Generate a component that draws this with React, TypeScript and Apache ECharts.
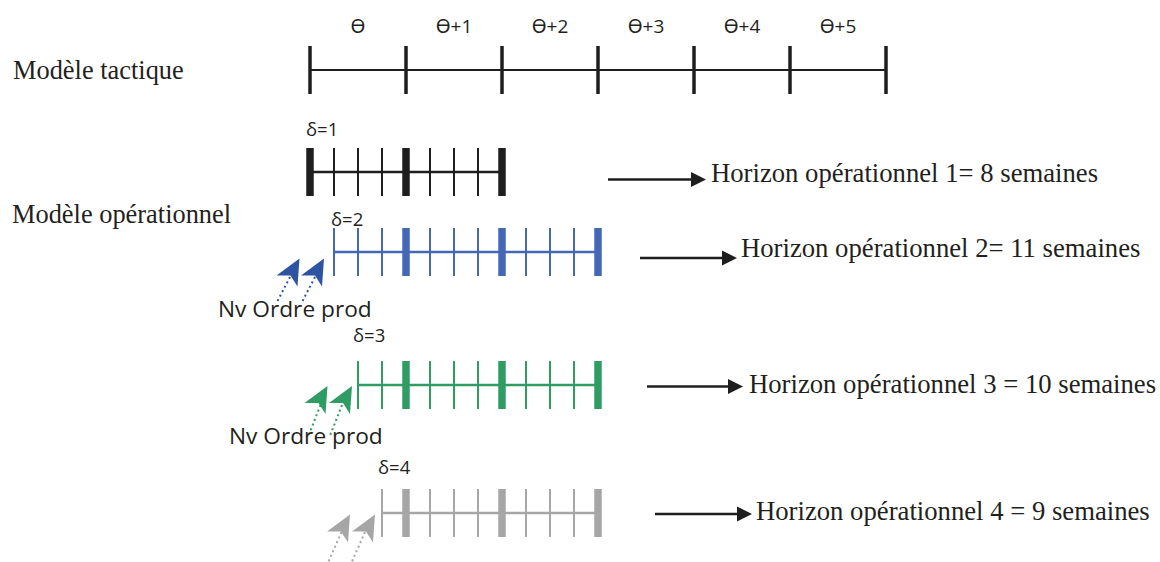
import React, { useEffect, useRef } from "react";
import * as echarts from "echarts";

// ---------- data ----------
const periodLabels = ["ϴ", "ϴ+1", "ϴ+2", "ϴ+3", "ϴ+4", "ϴ+5"];
const weeksPerPeriod = 4;
const deltas = [1, 2, 3, 4];
const horizonWeeks = [8, 11, 10, 9];
const deltaLabels = ["δ=1", "δ=2", "δ=3", "δ=4"];
const horizonLabels = [
  "Horizon opérationnel 1= 8 semaines",
  "Horizon opérationnel 2= 11 semaines",
  "Horizon opérationnel 3 = 10 semaines",
  "Horizon opérationnel 4 = 9 semaines",
];
const modelLabels = ["Modèle tactique", "Modèle opérationnel"];
const orderLabel = "Nv Ordre prod";

// ---------- styling / layout ----------
const rowColors = ["#1e1e1e", "#1e1e1e", "#4468b4", "#2f9d63", "#a6a6a6"];
const arrowColors = ["#1e1e1e", "#1e1e1e", "#2d54a3", "#2f9d63", "#a6a6a6"];
const rowCenters = [70, 172, 252, 385, 513];
const tickHalf = 24;
const gridLeft = 310;
const weekPx = 24;
const SERIF = "'Liberation Serif', 'Times New Roman', serif";
const SANS = "'Open Sans', 'Noto Sans', sans-serif";

const totalWeeks = periodLabels.length * weeksPerPeriod;

function arrowHead(tx: number, ty: number, fill: string) {
  return {
    type: "polygon",
    shape: {
      points: [
        [tx, ty],
        [tx - 23, ty + 17],
        [tx - 9, ty + 17],
        [tx - 2, ty + 28],
      ],
    },
    style: { fill },
  };
}
function dotted(x1: number, y1: number, x2: number, y2: number, stroke: string) {
  return {
    type: "line",
    shape: { x1, y1, x2, y2 },
    style: { stroke, lineWidth: 2, lineDash: [2, 3] },
  };
}
function txt(x: number, y: number, text: string, fontSize: number, fontFamily: string, fill = "#231f20") {
  return {
    type: "text",
    x,
    y,
    style: {
      text,
      fontSize,
      fontFamily,
      fill,
      align: "left",
      verticalAlign: "middle",
      textAlign: "left",
      textVerticalAlign: "middle",
    },
  };
}
function blackArrow(x1: number, x2: number, y: number) {
  return [
    { type: "line", shape: { x1, y1: y, x2: x2 - 14, y2: y }, style: { stroke: "#1e1e1e", lineWidth: 2.5 } },
    {
      type: "polygon",
      shape: { points: [[x2 - 15, y - 7.5], [x2, y], [x2 - 15, y + 7.5]] },
      style: { fill: "#1e1e1e" },
    },
  ];
}

export default function App() {
  const ref = useRef<HTMLDivElement>(null);
  useEffect(() => {
    if (!ref.current) return;
    const chart = echarts.init(ref.current, undefined, { renderer: "svg" });

    const grids: any[] = [];
    const xAxes: any[] = [];
    const yAxes: any[] = [];
    const series: any[] = [];

    // rows: 0 tactical, 1..4 operational
    const rows = [
      { start: 0, end: totalWeeks, step: weeksPerPeriod },
      ...deltas.map((d, i) => ({ start: d - 1, end: d - 1 + horizonWeeks[i], step: 1 })),
    ];

    rows.forEach((r, i) => {
      grids.push({
        left: gridLeft,
        width: totalWeeks * weekPx,
        top: rowCenters[i] - tickHalf,
        height: tickHalf * 2,
      });
      xAxes.push({ type: "value", gridIndex: i, min: 0, max: totalWeeks, show: false });
      yAxes.push({ type: "value", gridIndex: i, min: -1, max: 1, show: false });
      const ticks: number[][] = [];
      for (let w = r.start; w <= r.end; w += r.step) ticks.push([w, w % weeksPerPeriod === 0 ? 1 : 0]);
      const color = rowColors[i];
      series.push({
        type: "line",
        xAxisIndex: i,
        yAxisIndex: i,
        data: [
          [r.start, 0],
          [r.end, 0],
        ],
        showSymbol: false,
        symbol: "none",
        lineStyle: { color, width: i === 0 ? 2 : 2.5 },
        silent: true,
      });
      series.push({
        type: "custom",
        xAxisIndex: i,
        yAxisIndex: i,
        clip: false,
        data: ticks,
        renderItem: (_p: any, api: any) => {
          const w = api.value(0);
          const thick = api.value(1);
          const top = api.coord([w, 1]);
          const bot = api.coord([w, -1]);
          const bw = i === 0 ? 3.5 : thick ? 7.5 : 2;
          return {
            type: "rect",
            shape: { x: top[0] - bw / 2, y: top[1], width: bw, height: bot[1] - top[1] },
            style: { fill: color },
          };
        },
      });
    });

    // period labels on top of tactical row
    xAxes.push({
      type: "category",
      gridIndex: 0,
      position: "top",
      data: periodLabels,
      axisLine: { show: false },
      axisTick: { show: false },
      axisLabel: { fontSize: 19, fontFamily: SANS, color: "#231f20", margin: 11, lineHeight: 19 },
    });

    const graphic: any[] = [
      txt(13, 70, modelLabels[0], 26.4, SERIF),
      txt(12, 214, modelLabels[1], 26.4, SERIF),
      // delta labels
      txt(306, 128, deltaLabels[0], 18.5, SANS),
      txt(331, 218, deltaLabels[1], 18.5, SANS),
      txt(353, 334, deltaLabels[2], 18.5, SANS),
      txt(378, 466, deltaLabels[3], 18.5, SANS),
      // horizon arrows + texts
      ...blackArrow(608, 706, 179.5),
      txt(711, 173, horizonLabels[0], 26.7, SERIF),
      ...blackArrow(640, 737, 258),
      txt(741, 248, horizonLabels[1], 26.7, SERIF),
      ...blackArrow(647, 743, 386.5),
      txt(749, 384, horizonLabels[2], 26.7, SERIF),
      ...blackArrow(655, 752, 514),
      txt(756, 511, horizonLabels[3], 26.7, SERIF),
      // new production order arrows (blue)
      dotted(290, 277, 277, 302, arrowColors[2]),
      dotted(315, 277, 302, 302, arrowColors[2]),
      arrowHead(299.5, 258.5, arrowColors[2]),
      arrowHead(324, 258.5, arrowColors[2]),
      txt(218, 308.5, orderLabel, 22.7, SANS),
      // green
      dotted(320.5, 405, 308, 437, arrowColors[3]),
      dotted(342, 405, 329.5, 437, arrowColors[3]),
      arrowHead(327.5, 386, arrowColors[3]),
      arrowHead(352, 386, arrowColors[3]),
      txt(229, 435.5, orderLabel, 22.7, SANS),
      // gray
      dotted(341.5, 532, 326.5, 566, arrowColors[4]),
      dotted(365, 532, 350, 566, arrowColors[4]),
      arrowHead(350, 514.5, arrowColors[4]),
      arrowHead(375, 514.5, arrowColors[4]),
    ];

    chart.setOption({
      animation: false,
      backgroundColor: "#ffffff",
      grid: grids,
      xAxis: xAxes,
      yAxis: yAxes,
      series,
      graphic,
    });
    return () => chart.dispose();
  }, []);
  return (
    <div
      ref={ref}
      style={{ position: "absolute", left: 0, top: 0, width: 1160, height: 562 }}
    />
  );
}
